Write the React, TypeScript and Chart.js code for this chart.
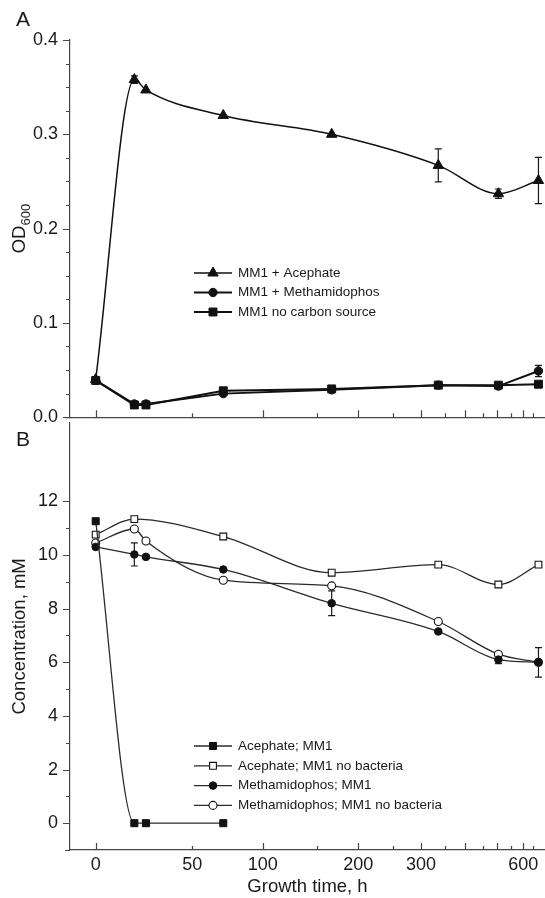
import React, { useEffect, useRef } from 'react';
import { Chart, LinearScale, registerables } from 'chart.js';
import { drawPoint } from 'chart.js/helpers';

const FONT = '"Liberation Sans", Arial, Helvetica, sans-serif';
const INK = '#1a1a1a';
const AXIS = '#454545';

// ---- x axis: growth time (h) ----
const TIMES_H = [0, 20, 26, 72, 168, 336, 504, 672];
const X_TICKS = [0, 50, 100, 150, 200, 250, 300, 350, 400, 450, 500, 550, 600, 650];
const X_LABELED = [0, 50, 100, 200, 300, 600];
const X_MIN = -13.3;
const X_MAX = 700;
// the original axis is non-linear: hour -> fraction of the axis length
const WARP_HOURS = [-13.3, 0, 50, 100, 150, 200, 250, 300, 350, 400, 450, 500, 550, 600, 650, 700];
const WARP_FRACTION = [0, 0.0541, 0.2575, 0.4057, 0.5194, 0.6069, 0.6806, 0.7389, 0.7895, 0.8316, 0.8688, 0.8996, 0.9278, 0.9543, 0.9754, 1];

// ---- Panel A: OD600 ----
const OD_ACEPHATE = [0.04, 0.358, 0.347, 0.32, 0.3, 0.267, 0.237, 0.251];
const OD_ACEPHATE_ERR = [0, 0.004, 0, 0, 0, 0.0175, 0.005, 0.0245];
const OD_METHAMIDOPHOS = [0.039, 0.014, 0.014, 0.025, 0.029, 0.034, 0.033, 0.049];
const OD_METHAMIDOPHOS_ERR = [0, 0, 0, 0, 0, 0, 0, 0.006];
const OD_NO_CARBON = [0.039, 0.013, 0.013, 0.028, 0.03, 0.034, 0.034, 0.035];
const Y_A_TICKS = [0, 0.025, 0.05, 0.075, 0.1, 0.125, 0.15, 0.175, 0.2, 0.225, 0.25, 0.275, 0.3, 0.325, 0.35, 0.375, 0.4];

// ---- Panel B: concentration (mM) ----
const CONC_ACEPHATE_MM1 = [11.26, 0, 0, 0, null, null, null, null];
const CONC_ACEPHATE_NOBAC = [10.76, 11.34, null, 10.69, 9.34, 9.64, 8.9, 9.64];
const CONC_METH_MM1 = [10.3, 10.02, 9.93, 9.46, 8.2, 7.15, 6.1, 6.0];
const CONC_METH_MM1_ERR = [0, 0.43, 0, 0, 0.46, 0, 0.15, 0];
const CONC_METH_NOBAC = [10.45, 10.97, 10.52, 9.06, 8.85, 7.52, 6.3, 6.0];
const CONC_METH_NOBAC_ERR = [0, 0, 0, 0, 0, 0, 0, 0.55];
const Y_B_TICKS = [0, 1, 2, 3, 4, 5, 6, 7, 8, 9, 10, 11, 12];

function warp(v: number): number {
  const h = WARP_HOURS, f = WARP_FRACTION, n = h.length;
  let i = 0;
  if (v <= h[0]) i = 0;
  else if (v >= h[n - 1]) i = n - 2;
  else { while (i < n - 2 && v > h[i + 1]) i++; }
  return f[i] + ((v - h[i]) / (h[i + 1] - h[i])) * (f[i + 1] - f[i]);
}
function unwarp(d: number): number {
  const h = WARP_HOURS, f = WARP_FRACTION, n = f.length;
  let i = 0;
  if (d <= f[0]) i = 0;
  else if (d >= f[n - 1]) i = n - 2;
  else { while (i < n - 2 && d > f[i + 1]) i++; }
  return h[i] + ((d - f[i]) / (f[i + 1] - f[i])) * (h[i + 1] - h[i]);
}

class WarpScale extends LinearScale {
  static id = 'warp';
  static defaults = LinearScale.defaults;
  getPixelForValue(value: number) { return this.getPixelForDecimal(warp(value)); }
  getValueForPixel(pixel: number) { return unwarp(this.getDecimalForPixel(pixel)); }
}

Chart.register(...registerables, WarpScale as any);
Chart.defaults.font.family = FONT;
Chart.defaults.color = INK;

const pts = (vals: (number | null)[]) =>
  TIMES_H.map((t, i) => (vals[i] == null ? null : { x: t, y: vals[i] as number })).filter((p) => p !== null);

function axisMarks(yTicks: number[], yMajor: (v: number) => boolean) {
  return {
    id: 'axisMarks',
    afterDraw(chart: any) {
      const { ctx, chartArea } = chart;
      const xs = chart.scales.x, ys = chart.scales.y;
      ctx.save();
      ctx.strokeStyle = AXIS;
      ctx.lineWidth = 1.2;
      ctx.beginPath();
      ctx.moveTo(chartArea.left - 5, chartArea.bottom + 0.5);
      ctx.lineTo(chartArea.left, chartArea.bottom + 0.5);
      for (const v of X_TICKS) {
        const px = Math.round(xs.getPixelForValue(v)) + 0.5;
        const len = v % 100 === 0 ? 7 : 4;
        ctx.moveTo(px, chartArea.bottom);
        ctx.lineTo(px, chartArea.bottom - len);
      }
      for (const v of yTicks) {
        const py = Math.round(ys.getPixelForValue(v)) + 0.5;
        const len = yMajor(v) ? 7 : 4;
        ctx.moveTo(chartArea.left, py);
        ctx.lineTo(chartArea.left - len, py);
      }
      ctx.stroke();
      ctx.restore();
    },
  };
}

function errorBars(items: { vals: (number | null)[]; errs: number[] }[]) {
  return {
    id: 'errorBars',
    beforeDatasetsDraw(chart: any) {
      const { ctx } = chart;
      const xs = chart.scales.x, ys = chart.scales.y;
      ctx.save();
      ctx.strokeStyle = INK;
      ctx.lineWidth = 1.2;
      ctx.beginPath();
      for (const it of items) {
        TIMES_H.forEach((t, i) => {
          const v = it.vals[i], e = it.errs[i];
          if (v == null || !e) return;
          const px = xs.getPixelForValue(t);
          const top = ys.getPixelForValue(v + e), bot = ys.getPixelForValue(v - e);
          ctx.moveTo(px, top); ctx.lineTo(px, bot);
          ctx.moveTo(px - 3.5, top); ctx.lineTo(px + 3.5, top);
          ctx.moveTo(px - 3.5, bot); ctx.lineTo(px + 3.5, bot);
        });
      }
      ctx.stroke();
      ctx.restore();
    },
  };
}

function legendBox(x0: number, y0: number, dy: number, size: number) {
  return {
    id: 'legendBox',
    afterDraw(chart: any) {
      const { ctx } = chart;
      chart.data.datasets.forEach((ds: any, i: number) => {
        const y = y0 + i * dy;
        ctx.save();
        ctx.strokeStyle = ds.borderColor;
        ctx.lineWidth = ds.borderWidth;
        ctx.beginPath();
        ctx.moveTo(x0, y);
        ctx.lineTo(x0 + 38, y);
        ctx.stroke();
        ctx.fillStyle = ds.pointBackgroundColor;
        ctx.strokeStyle = ds.pointBorderColor;
        ctx.lineWidth = ds.pointBorderWidth;
        drawPoint(ctx, { pointStyle: ds.pointStyle, radius: ds.pointRadius, rotation: 0, borderWidth: ds.pointBorderWidth } as any, x0 + 19, y);
        ctx.fillStyle = INK;
        ctx.font = `${size}px ${FONT}`;
        ctx.textBaseline = 'middle';
        ctx.textAlign = 'left';
        ctx.fillText(ds.label, x0 + 44, y);
        ctx.restore();
      });
    },
  };
}

function panelText(letter: string, ly: number, odTitle: boolean) {
  return {
    id: 'panelText',
    afterDraw(chart: any) {
      const { ctx, chartArea } = chart;
      ctx.save();
      ctx.fillStyle = INK;
      ctx.font = `21px ${FONT}`;
      ctx.textAlign = 'center';
      ctx.textBaseline = 'middle';
      ctx.fillText(letter, 23, ly);
      if (odTitle) {
        const cy = (chartArea.top + chartArea.bottom) / 2;
        ctx.translate(20, cy);
        ctx.rotate(-Math.PI / 2);
        ctx.textAlign = 'left';
        ctx.font = `18.5px ${FONT}`;
        const wOD = ctx.measureText('OD').width;
        ctx.font = `13px ${FONT}`;
        const wSub = ctx.measureText('600').width;
        const start = -(wOD + wSub) / 2;
        ctx.font = `18.5px ${FONT}`;
        ctx.fillText('OD', start, 0);
        ctx.font = `13px ${FONT}`;
        ctx.fillText('600', start + wOD, 6);
      }
      ctx.restore();
    },
  };
}

const xAxisBase = (showLabels: boolean, fitHeight: number) => ({
  type: 'warp',
  min: X_MIN,
  max: X_MAX,
  afterBuildTicks: (s: any) => { s.ticks = X_TICKS.map((v) => ({ value: v })); },
  afterFit: (s: any) => { s.height = fitHeight; },
  grid: { display: false, drawTicks: false },
  border: { display: true, color: AXIS, width: 1.2 },
  ticks: {
    display: showLabels,
    autoSkip: false,
    maxRotation: 0,
    minRotation: 0,
    padding: 4,
    font: { size: 18 },
    color: INK,
    callback: (v: any) => (X_LABELED.includes(Number(v)) ? String(v) : ''),
  },
  title: showLabels
    ? { display: true, text: 'Growth time, h', font: { size: 18.5 }, color: INK, padding: { top: 0, bottom: 0 } }
    : { display: false },
});

export default function App() {
  const refA = useRef<HTMLCanvasElement>(null);
  const refB = useRef<HTMLCanvasElement>(null);

  useEffect(() => {
    const black = '#111';
    const chartA = new Chart(refA.current as HTMLCanvasElement, {
      type: 'line',
      data: {
        datasets: [
          {
            label: 'MM1 + Acephate', data: pts(OD_ACEPHATE) as any,
            borderColor: black, borderWidth: 1.5, pointStyle: 'triangle', pointRadius: 6,
            pointBackgroundColor: black, pointBorderColor: black, pointBorderWidth: 1,
            cubicInterpolationMode: 'monotone',
          },
          {
            label: 'MM1 + Methamidophos', data: pts(OD_METHAMIDOPHOS) as any,
            borderColor: black, borderWidth: 2, pointStyle: 'circle', pointRadius: 4.2,
            pointBackgroundColor: black, pointBorderColor: black, pointBorderWidth: 1, tension: 0,
          },
          {
            label: 'MM1 no carbon source', data: pts(OD_NO_CARBON) as any,
            borderColor: black, borderWidth: 2, pointStyle: 'rect', pointRadius: 5.6,
            pointBackgroundColor: black, pointBorderColor: black, pointBorderWidth: 1, tension: 0,
          },
        ],
      },
      options: {
        animation: false,
        responsive: false,
        layout: { autoPadding: false, padding: { top: 40, left: 0, right: 0, bottom: 0 } },
        plugins: { legend: { display: false }, tooltip: { enabled: false } },
        scales: {
          x: xAxisBase(false, 20) as any,
          y: {
            min: 0, max: 0.4,
            afterBuildTicks: (s: any) => { s.ticks = Y_A_TICKS.map((v) => ({ value: v })); },
            afterFit: (s: any) => { s.width = 70; },
            grid: { display: false, drawTicks: false },
            border: { display: true, color: AXIS, width: 1.2 },
            ticks: {
              padding: 12, font: { size: 18 }, color: INK, autoSkip: false,
              callback: (v: any) => {
                const n = Number(v) * 10;
                return Math.abs(n - Math.round(n)) < 1e-6 ? (Math.round(n) / 10).toFixed(1) : '';
              },
            },
          },
        },
      },
      plugins: [
        errorBars([
          { vals: OD_ACEPHATE, errs: OD_ACEPHATE_ERR },
          { vals: OD_METHAMIDOPHOS, errs: OD_METHAMIDOPHOS_ERR },
        ]),
        axisMarks(Y_A_TICKS, (v) => Math.abs(v * 10 - Math.round(v * 10)) < 1e-6),
        legendBox(194, 273, 19.5, 13.5),
        panelText('A', 20, true),
      ] as any,
    });

    const gray = '#2a2a2a';
    const chartB = new Chart(refB.current as HTMLCanvasElement, {
      type: 'line',
      data: {
        datasets: [
          {
            label: 'Acephate; MM1', data: pts(CONC_ACEPHATE_MM1) as any,
            borderColor: gray, borderWidth: 1.3, pointStyle: 'rect', pointRadius: 5,
            pointBackgroundColor: black, pointBorderColor: black, pointBorderWidth: 1,
            cubicInterpolationMode: 'monotone',
          },
          {
            label: 'Acephate; MM1 no bacteria', data: pts(CONC_ACEPHATE_NOBAC) as any,
            borderColor: gray, borderWidth: 1.3, pointStyle: 'rect', pointRadius: 4.8,
            pointBackgroundColor: '#fff', pointBorderColor: black, pointBorderWidth: 1.1,
            cubicInterpolationMode: 'monotone',
          },
          {
            label: 'Methamidophos; MM1', data: pts(CONC_METH_MM1) as any,
            borderColor: gray, borderWidth: 1.3, pointStyle: 'circle', pointRadius: 3.8,
            pointBackgroundColor: black, pointBorderColor: black, pointBorderWidth: 1,
            cubicInterpolationMode: 'monotone',
          },
          {
            label: 'Methamidophos; MM1 no bacteria', data: pts(CONC_METH_NOBAC) as any,
            borderColor: gray, borderWidth: 1.3, pointStyle: 'circle', pointRadius: 4,
            pointBackgroundColor: '#fff', pointBorderColor: black, pointBorderWidth: 1.1,
            cubicInterpolationMode: 'monotone',
          },
        ],
      },
      options: {
        animation: false,
        responsive: false,
        layout: { autoPadding: false, padding: { top: 20, left: 0, right: 0, bottom: 0 } },
        plugins: { legend: { display: false }, tooltip: { enabled: false } },
        scales: {
          x: xAxisBase(true, 48) as any,
          y: {
            min: -1, max: 14.93,
            afterBuildTicks: (s: any) => { s.ticks = Y_B_TICKS.map((v) => ({ value: v })); },
            afterFit: (s: any) => { s.width = 70; },
            grid: { display: false, drawTicks: false },
            border: { display: true, color: AXIS, width: 1.2 },
            ticks: {
              padding: 12, font: { size: 18 }, color: INK, autoSkip: false,
              callback: (v: any) => (Number(v) % 2 === 0 ? String(v) : ''),
            },
            title: { display: true, text: 'Concentration, mM', font: { size: 18.5 }, color: INK, padding: { top: 9, bottom: 0 } },
          },
        },
      },
      plugins: [
        errorBars([
          { vals: CONC_METH_MM1, errs: CONC_METH_MM1_ERR },
          { vals: CONC_METH_NOBAC, errs: CONC_METH_NOBAC_ERR },
        ]),
        axisMarks(Y_B_TICKS, (v) => v % 2 === 0),
        legendBox(194, 346, 19.8, 13.5),
        panelText('B', 40, false),
      ] as any,
    });

    return () => {
      chartA.destroy();
      chartB.destroy();
    };
  }, []);

  return (
    <div style={{ position: 'absolute', left: 0, top: 0, width: 545, height: 898, background: '#fff', overflow: 'hidden' }}>
      <canvas ref={refA} width={545} height={440} style={{ position: 'absolute', left: 0, top: 0, width: 545, height: 440 }} />
      <canvas ref={refB} width={545} height={498} style={{ position: 'absolute', left: 0, top: 400, width: 545, height: 498 }} />
    </div>
  );
}
